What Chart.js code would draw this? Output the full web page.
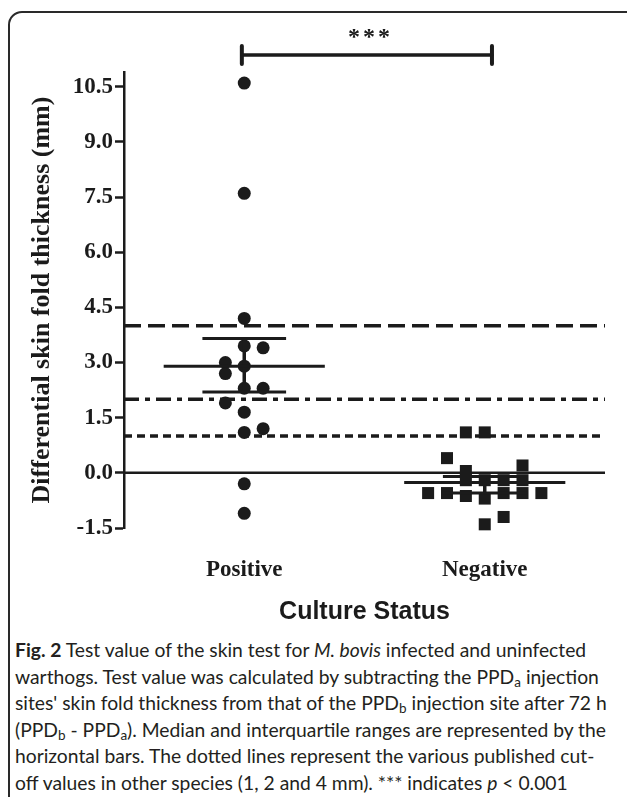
<!DOCTYPE html>
<html>
<head>
<meta charset="utf-8">
<script src="https://cdn.jsdelivr.net/npm/chart.js@4.4.1/dist/chart.umd.min.js"></script>
<style>
  html, body { margin:0; padding:0; background:#fff; }
  body { width:627px; height:797px; overflow:hidden; position:relative; }
  #frame { position:absolute; left:8px; top:11px; width:720px; height:900px; border:2px solid #2a2a2a; border-radius:14px; box-sizing:border-box; }
  #wrap { position:absolute; left:0; top:0; width:627px; height:630px; }
  #cap { position:absolute; left:15px; top:637px; font-family:Lato, "Open Sans", sans-serif; font-size:19.3px; color:#231f20; line-height:26.6px; white-space:nowrap; }
  #cap b { font-weight:700; }
  #cap sub { font-size:0.7em; vertical-align:-0.25em; line-height:0; }
</style>
</head>
<body>
<div id="frame"></div>
<div id="wrap"><canvas id="c" width="627" height="630"></canvas></div>
<div id="cap">
<div><b>Fig. 2</b> Test value of the skin test for <i>M. bovis</i> infected and uninfected</div>
<div>warthogs. Test value was calculated by subtracting the PPD<sub>a</sub> injection</div>
<div>sites' skin fold thickness from that of the PPD<sub>b</sub> injection site after 72 h</div>
<div>(PPD<sub>b</sub> - PPD<sub>a</sub>). Median and interquartile ranges are represented by the</div>
<div>horizontal bars. The dotted lines represent the various published cut-</div>
<div>off values in other species (1, 2 and 4 mm). *** indicates <i>p</i> &lt; 0.001</div>
</div>
<script>
// ---- data ----
const categories = ['Positive', 'Negative'];
const positiveValues = [10.6, 7.6, 4.2, 3.45, 3.4, 3.0, 2.9, 2.7, 2.3, 2.3, 1.9, 1.65, 1.1, 1.2, -0.3, -1.1];
const positiveSlots  = [0, 0, 0, 0, 1, -1, 0, -1, 0, 1, -1, 0, 0, 1, 0, 0];
const negativeValues = [1.1, 1.1, 0.4, 0.05, 0.2, -0.2, -0.2, -0.2, -0.2, -0.55, -0.55, -0.55, -0.55, -0.55, -0.63, -0.7, -1.2, -1.4];
const negativeSlots  = [-1, 0, -2, -1, 2, -1, 0, 1, 2, -3, -2, 1, 2, 3, -1, 0, 1, 0];
const medians = [2.9, -0.26];
const q1 = [2.2, -0.55];
const q3 = [3.65, -0.1];
const cutoffs = [4, 2, 1];
const yTicks = [-1.5, 0, 1.5, 3, 4.5, 6, 7.5, 9, 10.5];
const sigBracket = [0.99, 2.03];
const sigLabel = '***';

// ---- styling constants ----
const INK = '#1b1b1b';
const SLOT = 0.0785;
const MED_HALF = 0.335;
const Q_HALF = 0.174;
const X_MIN = 0.5, X_MAX = 2.5;
const Y_MIN = -1.5, Y_MAX = 10.9;
const cutoffDash = [[17, 7], [15, 6, 5, 6], [8, 5]];

function pts(values, slots, cat) {
  return values.map((v, i) => ({ x: cat + slots[i] * SLOT, y: v }));
}
function seg(x1, x2, y) { return [{x:x1, y:y}, {x:x2, y:y}]; }

const datasets = [];
categories.forEach((c, i) => {
  const cx = i + 1;
  datasets.push({ data: seg(cx - MED_HALF, cx + MED_HALF, medians[i]), showLine:true, borderColor:INK, borderWidth:3, pointRadius:0 });
  datasets.push({ data: seg(cx - Q_HALF, cx + Q_HALF, q1[i]), showLine:true, borderColor:INK, borderWidth:3, pointRadius:0 });
  datasets.push({ data: seg(cx - Q_HALF, cx + Q_HALF, q3[i]), showLine:true, borderColor:INK, borderWidth:3, pointRadius:0 });
  datasets.push({ data: [{x:cx, y:q1[i]}, {x:cx, y:q3[i]}], showLine:true, borderColor:INK, borderWidth:3.5, pointRadius:0 });
});
datasets.push({ data: pts(positiveValues, positiveSlots, 1), pointStyle:'circle', pointRadius:6.5, backgroundColor:INK, borderColor:INK, borderWidth:0 });
datasets.push({ data: pts(negativeValues, negativeSlots, 2), pointStyle:'rect', pointRadius:8.5, backgroundColor:INK, borderColor:INK, borderWidth:0 });
datasets.push({ data: seg(X_MIN, X_MAX, 0), showLine:true, borderColor:INK, borderWidth:2.5, pointRadius:0 });
cutoffs.forEach((v, i) => {
  datasets.push({ data: seg(X_MIN, X_MAX, v), showLine:true, borderColor:INK, borderWidth:3.5, borderDash:cutoffDash[i], borderCapStyle:'butt', pointRadius:0 });
});
datasets.forEach(d => { d.clip = false; });

const sigPlugin = {
  id: 'sig',
  afterDraw(chart) {
    const { ctx, scales: { x } } = chart;
    const x1 = x.getPixelForValue(sigBracket[0]);
    const x2 = x.getPixelForValue(sigBracket[1]);
    const yb = chart.chartArea.top - 17;
    ctx.save();
    ctx.strokeStyle = INK;
    ctx.lineCap = 'round';
    ctx.lineWidth = 3.5;
    ctx.beginPath(); ctx.moveTo(x1, yb); ctx.lineTo(x2, yb); ctx.stroke();
    ctx.lineWidth = 4;
    ctx.beginPath(); ctx.moveTo(x1, yb - 9); ctx.lineTo(x1, yb + 9); ctx.moveTo(x2, yb - 9); ctx.lineTo(x2, yb + 9); ctx.stroke();
    ctx.fillStyle = INK;
    ctx.font = 'bold 24px "Liberation Serif"';
    ctx.textAlign = 'center';
    ctx.textBaseline = 'middle';
    const cx = (x1 + x2) / 2 + 2;
    const chars = sigLabel.split('');
    chars.forEach((ch, k) => ctx.fillText(ch, cx + (k - (chars.length - 1) / 2) * 15, yb - 17));
    ctx.restore();
  }
};

new Chart(document.getElementById('c'), {
  type: 'scatter',
  data: { datasets },
  plugins: [sigPlugin],
  options: {
    responsive: false,
    animation: false,
    events: [],
    layout: { padding: { top: 72, right: 22, left: 0, bottom: 0 } },
    plugins: { legend: { display:false }, tooltip: { enabled:false } },
    scales: {
      x: {
        type: 'linear', min: X_MIN, max: X_MAX,
        afterBuildTicks: s => { s.ticks = categories.map((c, i) => ({ value: i + 1 })); },
        afterFit: s => { s.height = 630 - 528; },
        grid: { display:false, drawTicks:false },
        border: { display:false },
        ticks: { callback: v => categories[v - 1], color: INK, font: { family:'"Liberation Serif"', size:23, weight:'bold' }, padding: 28, maxRotation: 0, autoSkip:false },
        title: { display:true, text:'Culture Status', color: INK, font: { family:'"Liberation Sans"', size:25, weight:'bold' }, padding: { top:0, bottom:3 } }
      },
      y: {
        type: 'linear', min: Y_MIN, max: Y_MAX,
        afterBuildTicks: s => { s.ticks = yTicks.map(v => ({ value: v })); },
        afterFit: s => { s.width = 124; },
        grid: { drawOnChartArea:false, drawTicks:true, tickLength:9, tickWidth:2.5, tickColor:INK },
        border: { display:true, color:INK, width:2.5 },
        ticks: { callback: v => Number(v).toFixed(1), color: INK, font: { family:'"Liberation Serif"', size:23, weight:'bold' }, padding: 2, autoSkip:false },
        title: { display:true, text:'Differential skin fold thickness (mm)', color: INK, font: { family:'"Liberation Serif"', size:26, weight:'bold' }, padding: { top:27, bottom:0 } }
      }
    }
  }
});
</script>
</body>
</html>
